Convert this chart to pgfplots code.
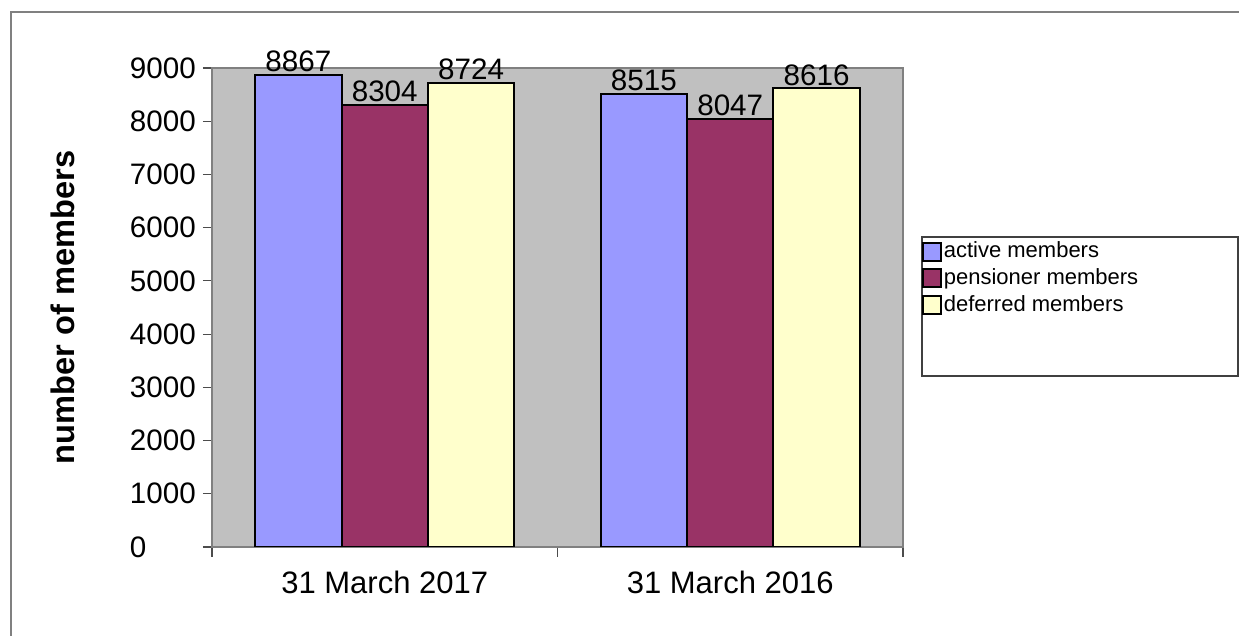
\documentclass[border=0pt]{standalone}
\usepackage{fontspec}
\setmainfont{Liberation Sans}
\usepackage{pgfplots}
\pgfplotsset{compat=1.18}
\definecolor{active}{HTML}{9999FF}
\definecolor{pension}{HTML}{993366}
\definecolor{deferred}{HTML}{FFFFCC}
\definecolor{plotbg}{HTML}{C0C0C0}
\definecolor{framegray}{HTML}{808080}

\begin{document}
\begin{tikzpicture}[x=1pt,y=1pt]
\useasboundingbox (0,0) rectangle (619.5,318);
% outer chart frame (only left and top edges are in view)
\draw[framegray, line width=0.8pt] (5.5,-2) -- (5.5,312) -- (622,312);
% legend box
\draw[black!75, line width=0.6pt, fill=white] (461,130) rectangle (619,199.5);
\begin{axis}[
  at={(106pt,44.5pt)}, anchor=south west,
  scale only axis, width=345.5pt, height=239.5pt,
  xmin=0, xmax=2, ymin=0, ymax=9000,
  axis background/.style={fill=plotbg},
  axis line style={framegray, line width=1pt},
  ybar, bar width=0.25, bar shift=0pt,
  ytick={0,1000,...,9000},
  xtick={0.5,1.5}, xticklabels={31 March 2017,31 March 2016},
  minor xtick={0,1,2},
  major x tick style={draw=none},
  minor tick length=5pt, major tick length=4.5pt,
  tick align=outside, xtick pos=bottom, ytick pos=left,
  tick style={black!70, line width=0.6pt},
  scaled y ticks=false,
  /pgf/number format/assume math mode=true,
  y tick label style={/pgf/number format/1000 sep={}, font=\fontsize{14.8}{16}\selectfont,
    text width=33pt, align=left},
  x tick label style={font=\fontsize{15.5}{17}\selectfont, yshift=-4pt},
  ylabel={\bfseries number of members},
  ylabel style={font=\fontsize{16.3}{18}\selectfont, at={(axis description cs:-0.2156,0.5)}, anchor=center},
  nodes near coords,
  every node near coord/.append style={font=\fontsize{14.8}{16}\selectfont, black, inner sep=1pt,
    /pgf/number format/1000 sep={}},
  legend style={at={(1.018,0.65)}, anchor=north west, draw=none, fill=none,
    font=\fontsize{11}{13}\selectfont, nodes={inner sep=1pt}, row sep=2pt},
  legend cell align=left,
  legend image code/.code={\draw[#1, line width=1pt] (0pt,-4.5pt) rectangle (9pt,4.5pt);},
]
\addplot[fill=active, draw=black, line width=1pt] coordinates {(0.25,8867) (1.25,8515)};
\addplot[fill=pension, draw=black, line width=1pt] coordinates {(0.5,8304) (1.5,8047)};
\addplot[fill=deferred, draw=black, line width=1pt] coordinates {(0.75,8724) (1.75,8616)};
\legend{active members, pensioner members, deferred members}
\end{axis}
\end{tikzpicture}
\end{document}
